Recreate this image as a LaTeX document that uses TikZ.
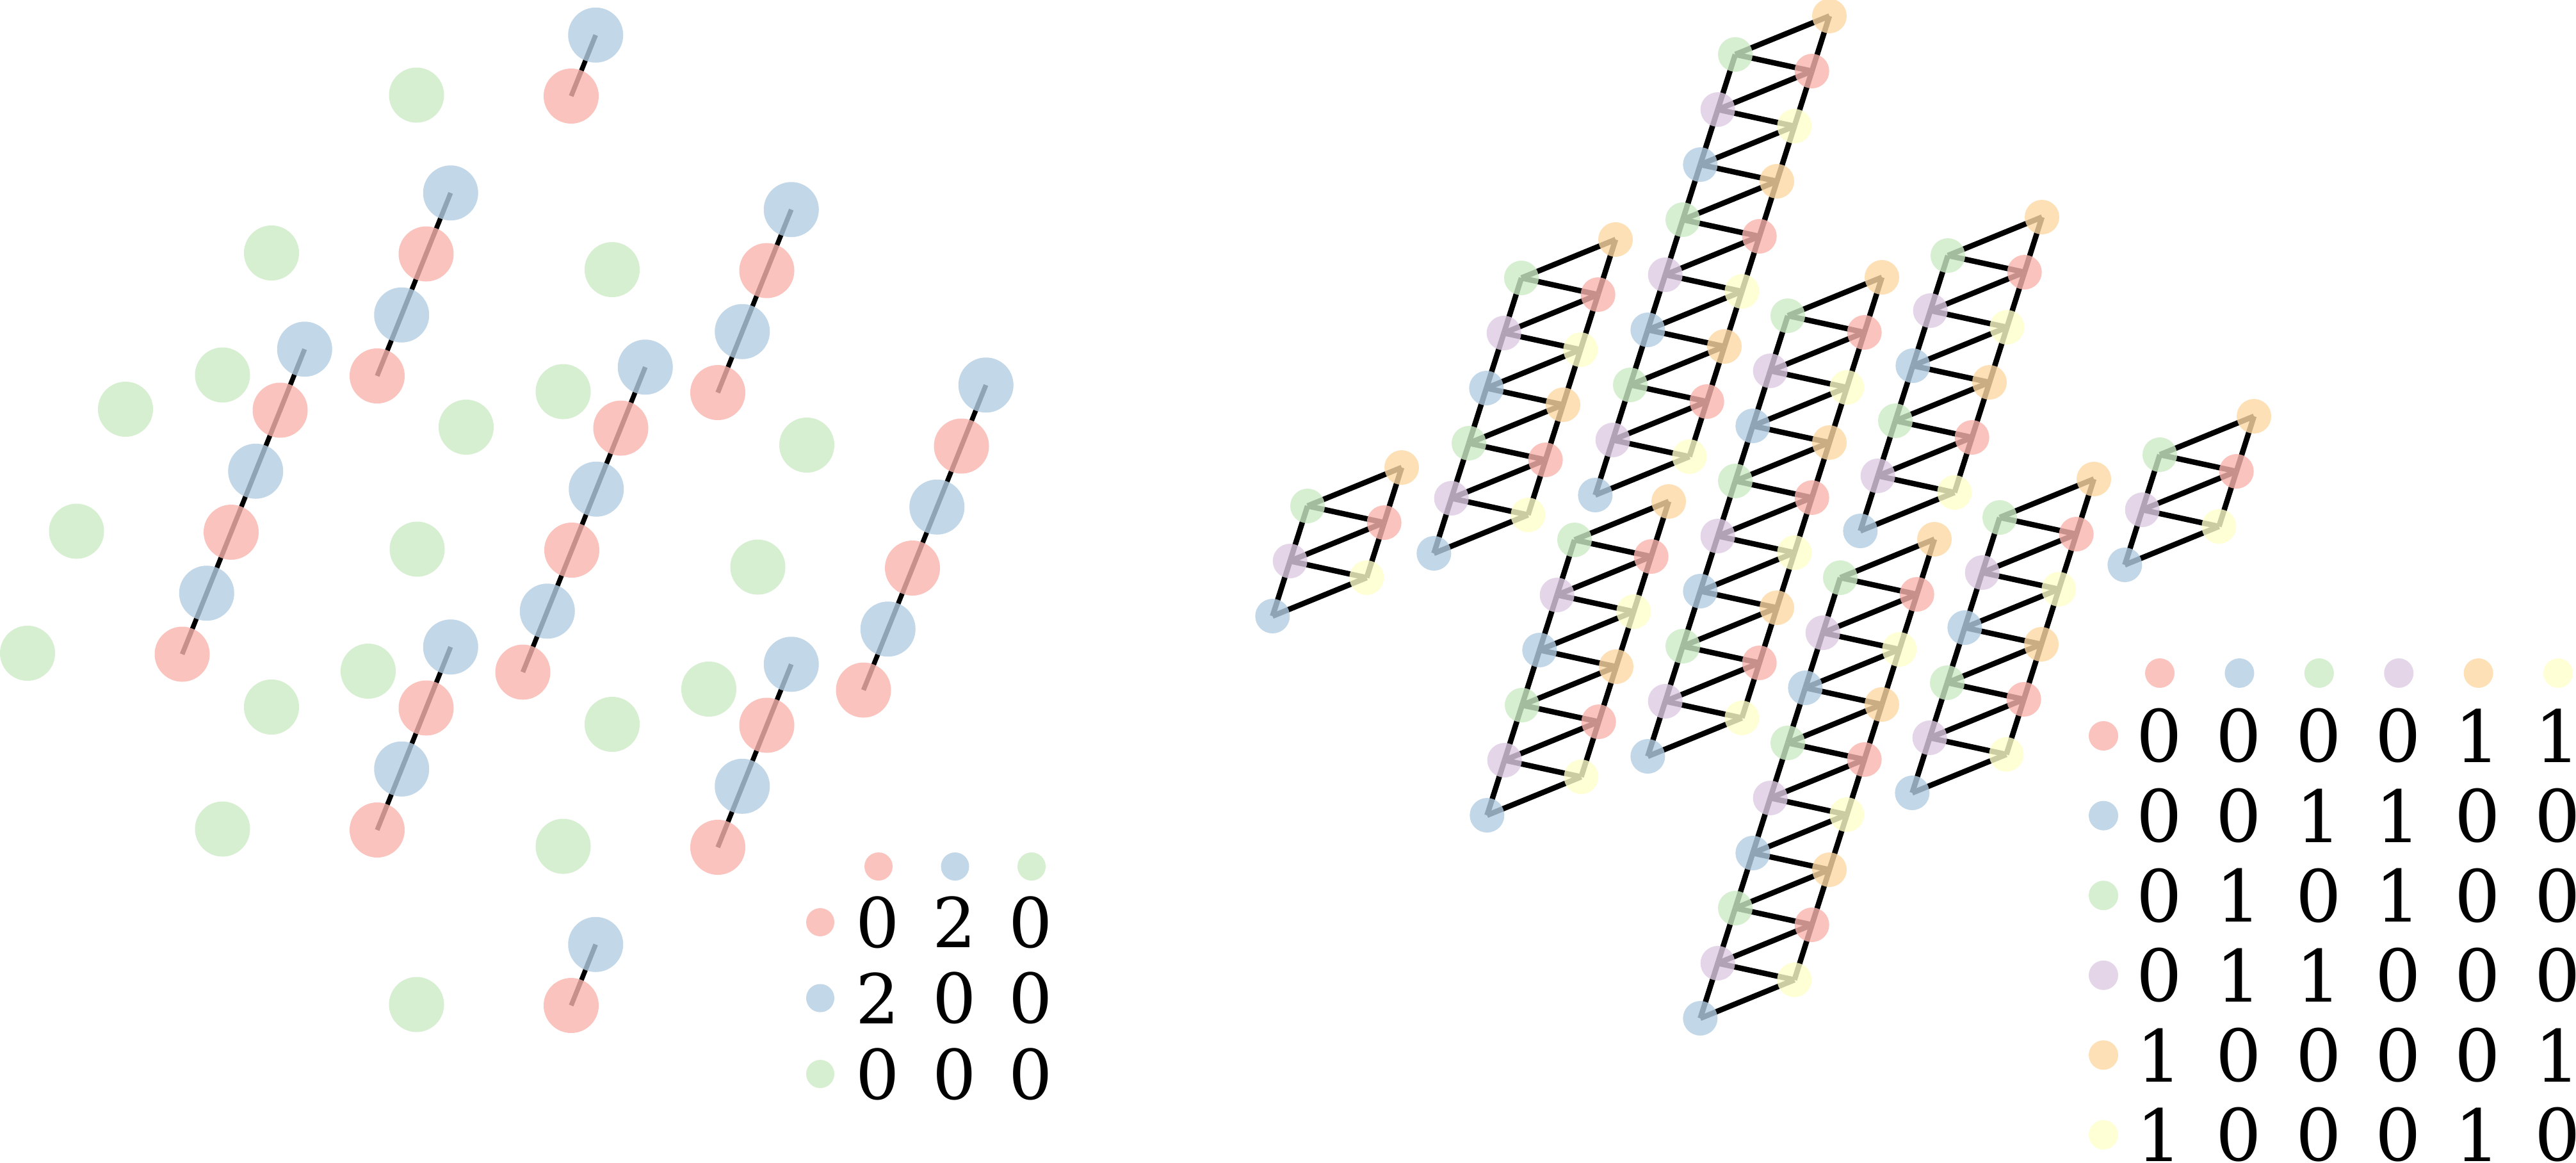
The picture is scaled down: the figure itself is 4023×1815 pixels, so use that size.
\documentclass[tikz,border=0pt]{standalone}
\usepackage{fontspec}
\setmainfont{DejaVu Serif}
\definecolor{pred}{HTML}{FBB4AE}
\definecolor{pblue}{HTML}{B3CDE3}
\definecolor{pgreen}{HTML}{CCEBC5}
\definecolor{ppurple}{HTML}{DECBE4}
\definecolor{porange}{HTML}{FED9A6}
\definecolor{pyellow}{HTML}{FFFFCC}
\colorlet{rc0}{porange}
\colorlet{rc1}{pgreen}
\colorlet{rc2}{pred}
\colorlet{rc3}{ppurple}
\colorlet{rc4}{pyellow}
\colorlet{rc5}{pblue}
\colorlet{lc0}{pred}
\colorlet{lc1}{pblue}
\colorlet{lc2}{pgreen}
\colorlet{lc3}{ppurple}
\colorlet{lc4}{porange}
\colorlet{lc5}{pyellow}
\tikzset{
  lline/.style={black,line width=1.5pt},
  rline/.style={black,line width=1.7pt},
  latom/.style={fill opacity=0.8},
  ldig/.style={inner sep=0pt,font=\fontsize{21.5}{25}\selectfont},
  rdig/.style={inner sep=0pt,font=\fontsize{22.5}{26}\selectfont},
}
\begin{document}
\begin{tikzpicture}[x=0.2pt,y=-0.2pt]
\fill[white] (0,0) rectangle (4023,1815);
\useasboundingbox (0,0) rectangle (4023,1815);
% ---------- left panel ----------
\foreach \cn/\bx/\by/\nn in {A/284.5/1021.5/3, D/816.5/1049.5/3, I/1348.5/1077.5/3, B/589/587/2, E/1121/613/2, F/589/1296/2, H/1121/1323/2, T/892/150/1, G/892/1570/1}{
  \pgfmathtruncatemacro\mm{\nn-1}
  \foreach \k in {0,...,\mm}{
    \coordinate (r-\cn-\k) at ({\bx+76.5*\k},{\by-190.5*\k});
    \coordinate (bl-\cn-\k) at ({\bx+76.5*\k+38.25},{\by-190.5*\k-95.25});
    \coordinate (g-\cn-\k) at ({\bx+76.5*\k-241.5},{\by-190.5*\k-1.5});
  }
  \draw[lline] (r-\cn-0) -- (bl-\cn-\mm);
}
\foreach \cn/\nn in {A/3, D/3, I/3, B/2, E/2, F/2, H/2, T/1, G/1}{
  \pgfmathtruncatemacro\mm{\nn-1}
  \foreach \k in {0,...,\mm}{
    \fill[latom,fill=pgreen] (g-\cn-\k) circle[radius=8.6pt];
    \fill[latom,fill=pblue] (bl-\cn-\k) circle[radius=8.6pt];
    \fill[latom,fill=pred] (r-\cn-\k) circle[radius=8.6pt];
  }
}
% left legend
\foreach \i in {0,1,2}{
  \coordinate (lh-\i) at ({1372+119.5*\i},1353);
  \coordinate (lv-\i) at (1281,{1440+118.5*\i});
  \fill[latom,fill=lc\i] (lh-\i) circle[radius=4.4pt];
  \fill[latom,fill=lc\i] (lv-\i) circle[radius=4.4pt];
}
\foreach \rowv [count=\i from 0] in {{0,2,0},{2,0,0},{0,0,0}}{
  \foreach \v [count=\j from 0] in \rowv {
    \node[ldig] (lm-\i-\j) at ({1371+119.5*\j},{1440+118.5*\i}) {\v};
  }
}
% ---------- right panel ----------
\foreach \ld/\tx/\ty/\nn in {1/2857/25/3, 2/2523/374/2, 3/2189/730/1, 4/2939/433/3, 5/3189/339/2, 6/2606/783/2, 7/3021/842/3, 8/3270/748/2, 9/3520/650/1}{
  \pgfmathtruncatemacro\NN{6*\nn-1}
  \pgfmathtruncatemacro\MM{6*\nn}
  \foreach \j in {0,...,\NN}{
    \pgfmathtruncatemacro\od{mod(\j,2)}
    \pgfmathtruncatemacro\hh{floor(\j/2)}
    \coordinate (R-\ld-\j) at ({\tx-147*\od-27.333*\hh},{\ty+60*\od+86*\hh});
  }
  \foreach \j in {0,...,\NN}{
    \pgfmathtruncatemacro\ja{\j+1}
    \pgfmathtruncatemacro\jb{\j+2}
    \ifnum\ja<\MM \draw[rline] (R-\ld-\j) -- (R-\ld-\ja); \fi
    \ifnum\jb<\MM \draw[rline] (R-\ld-\j) -- (R-\ld-\jb); \fi
  }
}
\foreach \ld/\nn in {1/3, 2/2, 3/1, 4/3, 5/2, 6/2, 7/3, 8/2, 9/1}{
  \pgfmathtruncatemacro\NN{6*\nn-1}
  \foreach \j in {0,...,\NN}{
    \pgfmathtruncatemacro\tp{mod(\j,6)}
    \fill[latom,fill=rc\tp] (R-\ld-\j) circle[radius=5.4pt];
  }
}
% right legend
\foreach \i in {0,...,5}{
  \coordinate (rh-\i) at ({3373+124.4*\i},1051);
  \coordinate (rv-\i) at (3285,{1149+124.6*\i});
  \fill[latom,fill=lc\i] (rh-\i) circle[radius=4.6pt];
  \fill[latom,fill=lc\i] (rv-\i) circle[radius=4.6pt];
}
\foreach \rowv [count=\i from 0] in {{0,0,0,0,1,1},{0,0,1,1,0,0},{0,1,0,1,0,0},{0,1,1,0,0,0},{1,0,0,0,0,1},{1,0,0,0,1,0}}{
  \foreach \v [count=\j from 0] in \rowv {
    \node[rdig] (rm-\i-\j) at ({3372+124.4*\j},{1149+124.6*\i}) {\v};
  }
}
\end{tikzpicture}
\end{document}
